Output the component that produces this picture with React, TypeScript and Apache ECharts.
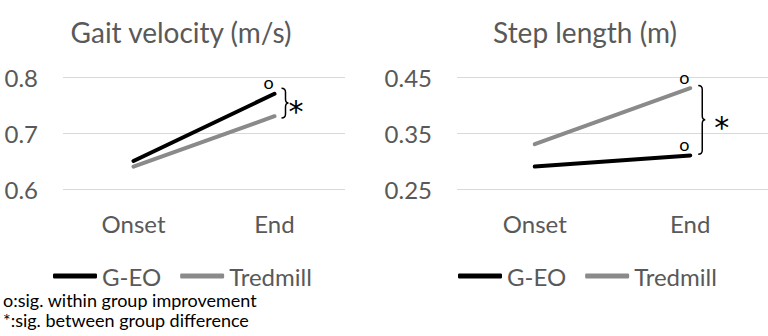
import React, { useEffect, useRef } from 'react';
import * as echarts from 'echarts';

const categories = ['Onset', 'End'];
const seriesNames = ['G-EO', 'Tredmill'];
const gaitGEO = [0.65, 0.77];
const gaitTred = [0.64, 0.73];
const stepGEO = [0.29, 0.31];
const stepTred = [0.33, 0.43];
const gaitGEOSig = ['', 'o'];
const gaitTredSig = ['', ''];
const stepGEOSig = ['', 'o'];
const stepTredSig = ['', 'o'];
const gaitTicks = [0.6, 0.7, 0.8];
const stepTicks = [0.25, 0.35, 0.45];
const gaitBrace = [[1, 0.78, 0.727]];
const stepBrace = [[1, 0.435, 0.312]];
const titles = ['Gait velocity (m/s)', 'Step length (m)'];
const footnotes = ['o:sig. within group improvement', '*:sig. between group difference'];

const FONT = 'Lato';
const TEXT = '#595959';
const BLACK = '#000000';
const GRAY = '#8a8a8a';

function withSig(values: number[], sig: string[]) {
  return values.map((v, i) => ({
    value: v,
    label: {
      show: sig[i] !== '',
      formatter: sig[i],
    },
  }));
}

function braceRender(dx: number, starDx: number) {
  return (params: any, api: any) => {
    const x = api.value(0);
    const p1 = api.coord([x, api.value(1)]);
    const p2 = api.coord([x, api.value(2)]);
    const xa = p1[0] + dx;
    const xb = xa + 4;
    const xc = xa + 7;
    const y1 = p1[1];
    const y2 = p2[1];
    const ym = (y1 + y2) / 2;
    const r = 4;
    const d = `M${xa},${y1} Q${xb},${y1} ${xb},${y1 + r} L${xb},${ym - r} Q${xb},${ym} ${xc},${ym} Q${xb},${ym} ${xb},${ym + r} L${xb},${y2 - r} Q${xb},${y2} ${xa},${y2}`;
    return {
      type: 'group',
      children: [
        { type: 'path', shape: { pathData: d }, style: { fill: 'none', stroke: BLACK, lineWidth: 1.5 } },
        {
          type: 'text',
          x: xc + starDx,
          y: ym + 8,
          style: { text: '*', fill: BLACK, fontSize: 30, fontFamily: 'DejaVu Sans', align: 'left', verticalAlign: 'middle' },
        },
      ],
    };
  };
}

function lineSeries(name: string, color: string, xi: number, data: any[]) {
  return {
    type: 'line',
    name,
    xAxisIndex: xi,
    yAxisIndex: xi,
    data,
    symbol: 'circle',
    symbolSize: 1,
    showSymbol: true,
    lineStyle: { color, width: 4, cap: 'round' },
    itemStyle: { color },
    label: {
      position: 'top',
      distance: 2,
      offset: [-6, 0],
      color: BLACK,
      fontSize: 18,
      fontFamily: FONT,
    },
    emphasis: { disabled: true },
  };
}

export default function App() {
  const ref = useRef<HTMLDivElement>(null);
  useEffect(() => {
    if (!ref.current) return;
    const chart = echarts.init(ref.current, undefined, { renderer: 'svg' });
    const yAxisBase = {
      type: 'value',
      axisLine: { show: false },
      axisTick: { show: false },
      splitLine: { show: true, lineStyle: { color: '#d9d9d9', width: 1 } },
    };
    const xAxisBase = {
      type: 'category',
      data: categories,
      boundaryGap: true,
      axisLine: { show: false },
      axisTick: { show: false },
      axisLabel: { color: TEXT, fontSize: 24, fontFamily: FONT, margin: 22 },
    };
    const legendBase = {
      data: seriesNames,
      icon: 'roundRect',
      itemWidth: 44,
      itemHeight: 5,
      itemGap: 19,
      padding: 0,
      textStyle: { color: TEXT, fontSize: 24, fontFamily: FONT, lineHeight: 20 },
      top: 264,
    };
    chart.setOption({
      animation: false,
      textStyle: { fontFamily: FONT },
      grid: [
        { left: 63, top: 77, width: 282, height: 112 },
        { left: 457, top: 77, width: 320, height: 112 },
      ],
      xAxis: [
        { ...xAxisBase, gridIndex: 0 },
        { ...xAxisBase, gridIndex: 1 },
      ],
      yAxis: [
        {
          ...yAxisBase,
          gridIndex: 0,
          min: gaitTicks[0],
          max: gaitTicks[gaitTicks.length - 1],
          axisTick: { show: false, customValues: gaitTicks },
          axisLabel: { color: TEXT, fontSize: 24, fontFamily: FONT, margin: 25, customValues: gaitTicks },
        },
        {
          ...yAxisBase,
          gridIndex: 1,
          min: stepTicks[0],
          max: stepTicks[stepTicks.length - 1],
          axisTick: { show: false, customValues: stepTicks },
          axisLabel: { color: TEXT, fontSize: 24, fontFamily: FONT, margin: 25, customValues: stepTicks },
        },
      ],
      legend: [
        { ...legendBase, left: 53 },
        { ...legendBase, left: 458 },
      ],
      graphic: [
        { type: 'text', x: 181, y: 32, style: { text: titles[0], fill: TEXT, fontSize: 28, fontFamily: FONT, align: 'center', verticalAlign: 'middle' } },
        { type: 'text', x: 585, y: 32, style: { text: titles[1], fill: TEXT, fontSize: 28, fontFamily: FONT, align: 'center', verticalAlign: 'middle' } },
        { type: 'text', x: 3, y: 300, style: { text: footnotes[0], fill: BLACK, fontSize: 18, lineHeight: 18, fontFamily: FONT, align: 'left', verticalAlign: 'middle' } },
        { type: 'text', x: 3, y: 320, style: { text: footnotes[1], fill: BLACK, fontSize: 18, lineHeight: 18, fontFamily: FONT, align: 'left', verticalAlign: 'middle' } },
      ],
      series: [
        lineSeries(seriesNames[1], GRAY, 0, withSig(gaitTred, gaitTredSig)),
        lineSeries(seriesNames[0], BLACK, 0, withSig(gaitGEO, gaitGEOSig)),
        lineSeries(seriesNames[1], GRAY, 1, withSig(stepTred, stepTredSig)),
        lineSeries(seriesNames[0], BLACK, 1, withSig(stepGEO, stepGEOSig)),
        {
          type: 'custom',
          xAxisIndex: 0,
          yAxisIndex: 0,
          data: gaitBrace,
          encode: { x: 0, y: [1, 2] },
          renderItem: braceRender(7, 0),
          silent: true,
        },
        {
          type: 'custom',
          xAxisIndex: 1,
          yAxisIndex: 1,
          data: stepBrace,
          encode: { x: 0, y: [1, 2] },
          renderItem: braceRender(8, 9),
          silent: true,
        },
      ],
    });
    return () => chart.dispose();
  }, []);
  return (
    <div
      ref={ref}
      style={{ position: 'absolute', left: 0, top: 0, width: 768, height: 336, background: '#ffffff' }}
    />
  );
}
